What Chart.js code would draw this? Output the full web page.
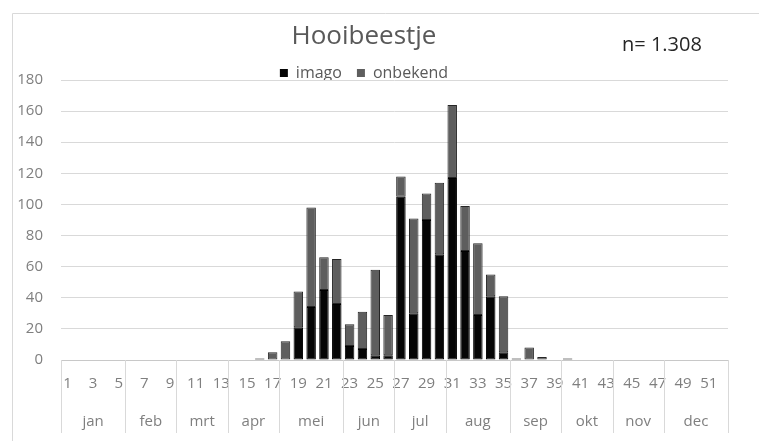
<!DOCTYPE html>
<html>
<head>
<meta charset="utf-8">
<script src="https://cdn.jsdelivr.net/npm/chart.js@4.4.1/dist/chart.umd.min.js"></script>
<style>
  html, body { margin: 0; padding: 0; background: #ffffff; }
  #wrap { position: relative; width: 759px; height: 441px; }
</style>
</head>
<body>
<div id="wrap"><canvas id="hooiChart" width="759" height="441"></canvas></div>
<script>
"use strict";

// weeknummers 1..52
var weeks = [];
for (var w = 1; w <= 52; w++) { weeks.push(String(w)); }

var months        = ["jan", "feb", "mrt", "apr", "mei", "jun", "jul", "aug", "sep", "okt", "nov", "dec"];
var weeksPerMonth = [5, 4, 4, 4, 5, 4, 4, 5, 4, 4, 4, 5];

var imago = [
    0, 0, 0, 0, 0, 0, 0, 0, 0, 0, 0, 0, 0,
    0, 0, 1, 0, 0, 21, 34, 45, 36, 9, 7, 3, 3,
    105, 30, 90, 68, 117, 70, 29, 41, 5, 1, 0, 0, 0,
    1, 0, 0, 0, 0, 0, 0, 0, 0, 0, 0, 0, 0
];
var onbekend = [
    0, 0, 0, 0, 0, 0, 0, 0, 0, 0, 0, 0, 0,
    0, 0, 0, 5, 12, 23, 64, 21, 29, 14, 24, 55, 26,
    13, 61, 17, 46, 47, 29, 46, 14, 36, 0, 8, 2, 0,
    0, 0, 0, 0, 0, 0, 0, 0, 0, 0, 0, 0, 0
];

var titleText = "Hooibeestje";
var countText = "n= 1.308";

var FONT = "'Open Sans', 'DejaVu Sans', sans-serif";
var GREY_TEXT = "#7f7f7f";

function barBorder(ctx)
{
    return ctx.raw > 0 ? 1 : 0;
}

var decorations = {
    id: "decorations",
    beforeDraw: function (chart)
    {
        var ctx = chart.ctx;
        ctx.save();
        ctx.strokeStyle = "#d9d9d9";
        ctx.lineWidth = 1;
        ctx.beginPath();
        ctx.moveTo(12.5, 441);
        ctx.lineTo(12.5, 13.5);
        ctx.lineTo(759, 13.5);
        ctx.stroke();
        ctx.restore();
    },
    afterDraw: function (chart)
    {
        var ctx    = chart.ctx;
        var xScale = chart.scales.x;
        var half   = (xScale.getPixelForValue(1) - xScale.getPixelForValue(0)) / 2;
        var top    = chart.chartArea.bottom;

        ctx.save();
        // maand-scheidingen en maandnamen
        ctx.strokeStyle = "#d9d9d9";
        ctx.lineWidth = 1;
        ctx.fillStyle = GREY_TEXT;
        ctx.font = "15px " + FONT;
        ctx.textAlign = "center";
        ctx.textBaseline = "middle";

        var start = 0;
        for (var i = 0; i < months.length; i++)
        {
            var end   = start + weeksPerMonth[i] - 1;
            var left  = xScale.getPixelForValue(start) - half;
            var right = xScale.getPixelForValue(end) + half;
            ctx.beginPath();
            ctx.moveTo(Math.round(left) + 0.5, top);
            ctx.lineTo(Math.round(left) + 0.5, 433);
            ctx.stroke();
            if (i === months.length - 1)
            {
                ctx.beginPath();
                ctx.moveTo(Math.round(right) + 0.5, top);
                ctx.lineTo(Math.round(right) + 0.5, 433);
                ctx.stroke();
            }
            ctx.fillText(months[i], (left + right) / 2, 422);
            start = end + 1;
        }

        // n= rechtsboven
        ctx.fillStyle = "#262626";
        ctx.font = "20px " + FONT;
        ctx.textAlign = "left";
        ctx.fillText(countText, 622, 45);
        ctx.restore();
    }
};

new Chart(document.getElementById("hooiChart"), {
    type: "bar",
    data: {
        labels: weeks,
        datasets: [
            {
                label:           "imago",
                data:            imago,
                backgroundColor: "#050505",
                borderColor:     "#000000",
                borderWidth:     barBorder,
                borderSkipped:   false
            },
            {
                label:           "onbekend",
                data:            onbekend,
                backgroundColor: "#5e5e5e",
                borderColor:     "#262626",
                borderWidth:     barBorder,
                borderSkipped:   false
            }
        ]
    },
    options: {
        responsive: false,
        animation:  false,
        layout: {
            padding: { left: 0, right: 31, top: 0, bottom: 0 }
        },
        datasets: {
            bar: {
                categoryPercentage: 1.0,
                barPercentage:      0.74
            }
        },
        plugins: {
            tooltip: { enabled: false },
            title: {
                display: true,
                text:    titleText,
                color:   "#595959",
                font:    { family: FONT, size: 26, weight: "normal", lineHeight: 1.0 },
                padding: { top: 24, bottom: 0 }
            },
            legend: {
                display:   true,
                position:  "top",
                maxHeight: 30,
                labels: {
                    color:     "#595959",
                    boxWidth:  8,
                    boxHeight: 8,
                    padding:   15,
                    font:      { family: FONT, size: 16 }
                }
            }
        },
        scales: {
            x: {
                stacked: true,
                grid:    { display: false, drawTicks: false },
                border:  { display: true, color: "#c8c8c8" },
                ticks: {
                    autoSkip:    false,
                    maxRotation: 0,
                    padding:     15,
                    color:       GREY_TEXT,
                    font:        { family: FONT, size: 15 },
                    callback:    function (value, index) {
                        return index % 2 === 0 ? weeks[index] : "";
                    }
                },
                afterFit: function (scale) { scale.height = 81; }
            },
            y: {
                stacked: true,
                min:     0,
                max:     180,
                grid:    { color: "#d9d9d9", drawTicks: false },
                border:  { display: false },
                ticks: {
                    stepSize: 20,
                    padding:  18,
                    color:    GREY_TEXT,
                    font:     { family: FONT, size: 15 }
                },
                afterFit: function (scale) { scale.width = 61; }
            }
        }
    },
    plugins: [decorations]
});
</script>
</body>
</html>
